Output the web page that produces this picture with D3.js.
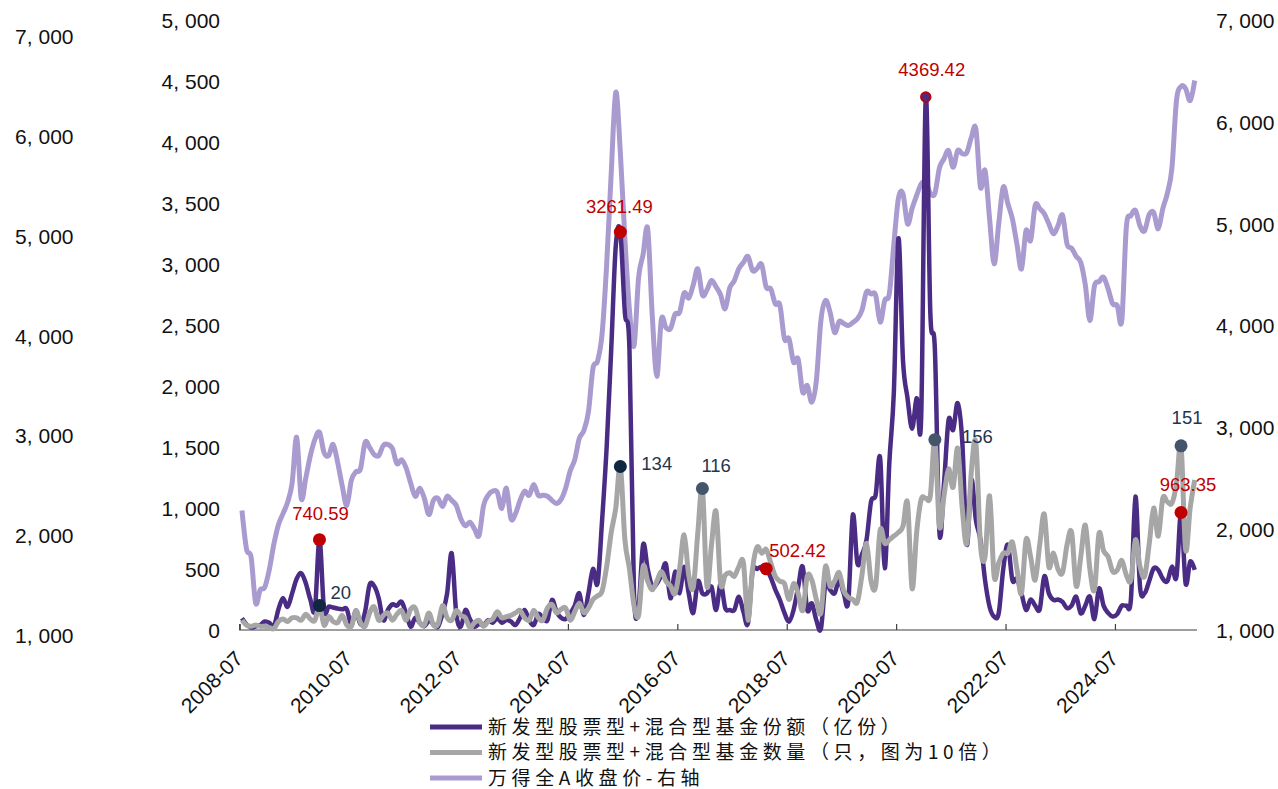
<!DOCTYPE html>
<html><head><meta charset="utf-8">
<script src="https://cdn.jsdelivr.net/npm/d3@7"></script>
<style>body{margin:0;background:#fff}svg{display:block}</style>
</head><body><svg id="c" width="1278" height="789"></svg>
<script>
// ---------- DATA ----------
const firstMonth = "2008-07";
const monthCount = 210;
const months = [];
for (let k = 0; k < monthCount; k++) {
  const m = 6 + k;
  months.push(`${2008 + Math.floor(m / 12)}-${String(m % 12 + 1).padStart(2, "0")}`);
}
const tickMonths = ["2008-07","2010-07","2012-07","2014-07","2016-07","2018-07","2020-07","2022-07","2024-07"];

// 新发型股票型+混合型基金份额（亿份）
const fundShares = [
  96,45,20,30,40,70,60,30,170,260,
  190,300,420,465,383,250,170,740.59,164,191,
  185,175,170,170,41,160,45,150,370,360,
  260,80,164,210,200,232,137,27,100,60,
  30,75,50,27,137,300,629,137,27,164,
  90,27,50,40,80,60,96,60,82,70,
  41,100,164,80,41,130,100,80,246,150,
  100,90,137,200,301,123,300,500,383,900,
  1500,2300,3150,3261.49,2600,2300,300,200,700,500,
  355,380,450,540,260,478,301,519,300,140,
  400,300,300,355,164,383,180,164,164,273,
  150,55,480,500,519,502.42,430,330,246,140,
  68,164,350,519,164,219,80,10,383,330,
  301,410,300,232,943,547,620,738,1052,1107,
  1407,506,1366,1950,3210,2213,1900,1650,1900,1750,
  4369.42,2600,2300,800,1200,1721,1640,1860,1550,700,
  1230,900,738,410,191,110,137,500,700,410,
  420,301,164,250,200,170,440,300,246,250,
  230,180,200,273,137,200,273,90,340,200,
  140,110,130,200,200,250,1093,355,301,400,
  506,492,420,400,519,437,963.35,383,560,492
];
// 新发型股票型+混合型基金数量（只），图中按10倍绘制
const fundCount = [
  8,4,3,4,3,3,2,1,7,9,
  7,10,10,8,13,9,8,20,4,11,
  7,6,12,4,3,16,6,3,14,19,
  8,12,14,8,13,16,8,17,18,6,
  4,14,4,5,20,10,8,16,12,10,
  2,6,8,3,7,9,15,10,11,12,
  14,16,10,8,16,10,8,18,21,14,
  17,18,8,15,22,14,18,25,28,32,
  52,80,100,134,74,50,20,12,52,40,
  33,40,48,40,36,30,50,78,45,35,
  80,116,36,70,97,38,45,47,44,52,
  55,8,50,68,63,66,55,44,40,38,
  25,38,30,16,44,41,25,14,52,36,
  40,47,32,27,25,23,45,71,40,36,
  82,71,74,77,80,85,104,34,80,107,
  108,110,156,85,110,132,117,149,100,71,
  130,153,70,60,110,44,55,63,63,72,
  50,30,74,60,41,70,95,52,63,50,
  47,70,80,36,60,86,50,33,79,65,
  60,48,49,57,45,41,74,52,44,70,
  100,77,108,105,104,120,151,66,100,123
];
const countScale = 10;
// 万得全A收盘价（右轴）
const windA = [
  2180,1800,1721,1270,1400,1426,1600,1850,2040,2150,
  2260,2450,2900,2300,2500,2720,2880,2950,2750,2720,
  2830,2650,2420,2230,2480,2560,2590,2850,2800,2730,
  2720,2820,2830,2790,2640,2680,2600,2450,2320,2400,
  2300,2140,2280,2300,2220,2320,2280,2230,2100,2030,
  2065,2000,1934,2230,2330,2370,2361,2200,2400,2100,
  2150,2280,2370,2330,2436,2330,2330,2320,2280,2250,
  2290,2400,2570,2680,2890,2967,3150,3580,3650,3918,
  4600,5500,6295,5700,4850,4150,3800,4470,4700,4950,
  4100,3500,4060,3980,3970,4110,4130,4320,4270,4400,
  4557,4300,4350,4443,4380,4300,4164,4370,4440,4560,
  4620,4679,4540,4560,4600,4377,4360,4213,4200,3869,
  3869,3640,3670,3344,3410,3246,3459,4050,4246,4131,
  3930,4040,4020,4000,4030,4066,4150,4330,4310,4300,
  4033,4246,4312,4800,5250,5295,5000,5150,5280,5393,
  5410,5300,5300,5550,5640,5721,5557,5721,5690,5700,
  5850,5934,5361,5525,5050,4607,5000,5361,5200,5050,
  4800,4557,4934,4836,5180,5150,5100,5000,4902,4980,
  5085,4800,4760,4680,4620,4400,4049,4390,4430,4475,
  4360,4213,4197,4049,4967,5080,5131,4980,4930,5090,
  5110,4951,5150,5300,5550,6213,6350,6330,6213,6410
];
const leftTicks = [0,500,1000,1500,2000,2500,3000,3500,4000,4500,5000];
const rightTicks = [1000,2000,3000,4000,5000,6000,7000];
const outerTicks = [1000,2000,3000,4000,5000,6000,7000];
const seriesNames = ["新发型股票型+混合型基金份额（亿份）","新发型股票型+混合型基金数量（只，图为10倍）","万得全A收盘价-右轴"];
const shareMarks = ["2009-12","2015-06","2018-02","2021-01","2025-09"];
const countMarks = ["2009-12","2015-06","2016-12","2021-03","2025-09"];

// ---------- STYLE / PLACEMENT ----------
const C = {share:"#4B2C84", count:"#A6A6A6", wind:"#A99BCF", red:"#C00000", navyDark:"#0F2740", navy:"#44546A", navyText:"#1F3550"};
const shareLabelPos = {"2009-12":[1,-20,"middle"],"2015-06":[-1,-19,"middle"],"2018-02":[3,-12,"start"],"2021-01":[6,-21,"middle"],"2025-09":[7,-21,"middle"]};
const countLabelPos = {"2009-12":[11,-7,"start"],"2015-06":[21,3,"start"],"2016-12":[-1,-16,"start"],"2021-03":[27,3,"start"],"2025-09":[6,-22,"middle"]};
const countDotColor = {"2009-12":C.navyDark,"2015-06":C.navyDark,"2016-12":C.navy,"2021-03":C.navy,"2025-09":C.navy};

const svg = d3.select("#c");
const numFont = "'Liberation Sans', Arial, sans-serif";
const cjkFont = "'Noto Sans CJK SC', 'Noto Sans', sans-serif";

const x = d3.scaleLinear().domain([0, monthCount]).range([239.7, 1197]);
const xc = i => x(i + 0.5);
const yL = d3.scaleLinear().domain([0, 5000]).range([630, 20]);
const yR = d3.scaleLinear().domain([1000, 7000]).range([630.5, 20.5]);
const yO = d3.scaleLinear().domain([1000, 7000]).range([635, 36.5]);
const fmt = v => d3.format(",")(v).replace(",", ", ");

// outer left axis (labels only)
const gO = svg.append("g").attr("transform","translate(73.5,0)")
  .call(d3.axisLeft(yO).tickValues(outerTicks).tickFormat(fmt).tickSize(0).tickPadding(0));
// inner left axis
const gL = svg.append("g").attr("transform","translate(220,0)")
  .call(d3.axisLeft(yL).tickValues(leftTicks).tickFormat(fmt).tickSize(0).tickPadding(0));
// right axis
const gR = svg.append("g").attr("transform","translate(1216,0)")
  .call(d3.axisRight(yR).tickValues(rightTicks).tickFormat(fmt).tickSize(0).tickPadding(0));
[gO,gL,gR].forEach(g => {
  g.select(".domain").remove();
  g.selectAll("text").attr("font-family", numFont).attr("font-size", 21).attr("fill", "#111").attr("dy","0.35em");
});

// bottom axis
const tickIdx = tickMonths.map(m => months.indexOf(m));
const gX = svg.append("g").attr("transform","translate(0,630)")
  .call(d3.axisBottom(x).tickValues(tickIdx).tickSize(-6).tickFormat(i => months[i]));
gX.select(".domain").attr("d", `M${x(0)},0V-6V0H${x(monthCount)}`).attr("stroke","#404040").attr("stroke-width",1.2);
gX.selectAll(".tick line").attr("stroke","#404040").attr("stroke-width",1.2);
gX.selectAll("text").attr("font-family", numFont).attr("font-size", 21).attr("fill","#111")
  .attr("text-anchor","end").attr("dy",null).attr("y",null)
  .attr("transform","translate(4,30) rotate(-45)");

// lines
const curve = d3.curveCardinal.tension(0);
const lineFor = (vals, ys, mult) => d3.line().x((d,i) => xc(i)).y(d => ys(d * mult)).curve(curve)(vals);
svg.append("path").attr("d", lineFor(windA, yR, 1)).attr("fill","none").attr("stroke",C.wind).attr("stroke-width",5).attr("stroke-linejoin","round");
svg.append("path").attr("d", lineFor(fundShares, yL, 1)).attr("fill","none").attr("stroke",C.share).attr("stroke-width",4.5).attr("stroke-linejoin","round");
svg.append("path").attr("d", lineFor(fundCount, yL, countScale)).attr("fill","none").attr("stroke",C.count).attr("stroke-width",5).attr("stroke-linejoin","round");

// markers - counts
countMarks.forEach(m => {
  const i = months.indexOf(m), v = fundCount[i];
  const cx = xc(i), cy = yL(v * countScale);
  svg.append("circle").attr("cx",cx).attr("cy",cy).attr("r",6.5).attr("fill",countDotColor[m]);
  const p = countLabelPos[m];
  svg.append("text").attr("x",cx+p[0]).attr("y",cy+p[1]).attr("text-anchor",p[2])
    .attr("font-family",numFont).attr("font-size",18.5).attr("fill",C.navyText).text(v);
});
// markers - shares
shareMarks.forEach(m => {
  const i = months.indexOf(m), v = fundShares[i];
  const cx = xc(i), cy = yL(v);
  const isMax = v === d3.max(fundShares);
  if (isMax) svg.append("circle").attr("cx",cx).attr("cy",cy).attr("r",4.7).attr("fill",C.share).attr("stroke",C.red).attr("stroke-width",2);
  else svg.append("circle").attr("cx",cx).attr("cy",cy).attr("r",6.5).attr("fill",C.red);
  const p = shareLabelPos[m];
  svg.append("text").attr("x",cx+p[0]).attr("y",cy+p[1]).attr("text-anchor",p[2])
    .attr("font-family",numFont).attr("font-size",18.5).attr("fill",C.red).text(d3.format(".2f")(v));
});

// legend
const legColors = [C.share, C.count, C.wind];
const legY = [727, 752.5, 778];
seriesNames.forEach((name, k) => {
  svg.append("line").attr("x1",430).attr("x2",482).attr("y1",legY[k]).attr("y2",legY[k])
    .attr("stroke",legColors[k]).attr("stroke-width",5);
  svg.append("text").attr("x",488).attr("y",legY[k]).attr("dy","0.36em")
    .attr("font-family",cjkFont).attr("font-size",19).attr("letter-spacing",4.6).attr("fill","#111").text(name);
});
</script></body></html>
